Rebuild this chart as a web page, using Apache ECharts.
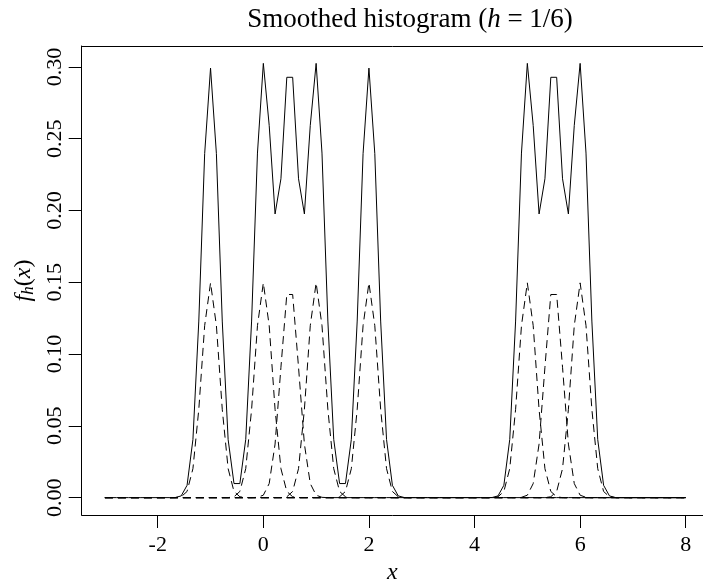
<!DOCTYPE html>
<html>
<head>
<meta charset="utf-8">
<script src="https://cdn.jsdelivr.net/npm/echarts@6/dist/echarts.min.js"></script>
<style>html,body{margin:0;padding:0;background:#fff}#c{width:703px;height:583px}</style>
</head>
<body>
<div id="c"></div>
<script>
// grid x values (100 points from -3 to 8)
const xs = [
  -3, -2.8889, -2.7778, -2.6667, -2.5556, -2.4444, -2.3333, -2.2222, -2.1111,
  -2, -1.8889, -1.7778, -1.6667, -1.5556, -1.4444, -1.3333, -1.2222, -1.1111,
  -1, -0.8889, -0.7778, -0.6667, -0.5556, -0.4444, -0.3333, -0.2222, -0.1111,
  0, 0.1111, 0.2222, 0.3333, 0.4444, 0.5556, 0.6667, 0.7778, 0.8889,
  1, 1.1111, 1.2222, 1.3333, 1.4444, 1.5556, 1.6667, 1.7778, 1.8889,
  2, 2.1111, 2.2222, 2.3333, 2.4444, 2.5556, 2.6667, 2.7778, 2.8889,
  3, 3.1111, 3.2222, 3.3333, 3.4444, 3.5556, 3.6667, 3.7778, 3.8889,
  4, 4.1111, 4.2222, 4.3333, 4.4444, 4.5556, 4.6667, 4.7778, 4.8889,
  5, 5.1111, 5.2222, 5.3333, 5.4444, 5.5556, 5.6667, 5.7778, 5.8889,
  6, 6.1111, 6.2222, 6.3333, 6.4444, 6.5556, 6.6667, 6.7778, 6.8889,
  7, 7.1111, 7.2222, 7.3333, 7.4444, 7.5556, 7.6667, 7.7778, 7.8889,
  8
];

// smoothed histogram (solid)
const total = [
  0,0,0,0,0,0,0,0,0,0,
  0,0,0.0001,0.0012,0.0086,0.0405,0.1230,0.2396,0.2992,0.2396,
  0.1230,0.0405,0.0098,0.0098,0.0406,0.1230,0.2400,0.3025,0.2593,0.1976,
  0.2221,0.2928,0.2928,0.2221,0.1976,0.2593,0.3025,0.2400,0.1230,0.0406,
  0.0098,0.0098,0.0406,0.1230,0.2396,0.2992,0.2396,0.1230,0.0405,0.0086,
  0.0012,0.0001,0,0,0,0,0,0,0,0,
  0,0,0,0,0,0,0.0001,0.0012,0.0086,0.0405,
  0.1230,0.2400,0.3025,0.2593,0.1976,0.2221,0.2928,0.2928,0.2221,0.1976,
  0.2593,0.3025,0.2400,0.1230,0.0405,0.0086,0.0012,0.0001,0,0,
  0,0,0,0,0,0,0,0,0,0
];

// individual bumps (dashed)
const bumpM1 = [
  0,0,0,0,0,0,0,0,0,0,
  0,0,0,0.0006,0.0043,0.0202,0.0615,0.1198,0.1496,0.1198,
  0.0615,0.0202,0.0043,0.0006,0,0,0,0,0,0,
  0,0,0,0,0,0,0,0,0,0,
  0,0,0,0,0,0,0,0,0,0,
  0,0,0,0,0,0,0,0,0,0,
  0,0,0,0,0,0,0,0,0,0,
  0,0,0,0,0,0,0,0,0,0,
  0,0,0,0,0,0,0,0,0,0,
  0,0,0,0,0,0,0,0,0,0
];
const bump0 = [
  0,0,0,0,0,0,0,0,0,0,
  0,0,0,0,0,0,0,0,0,0,
  0,0,0.0006,0.0043,0.0202,0.0615,0.1198,0.1496,0.1198,0.0615,
  0.0202,0.0043,0.0006,0,0,0,0,0,0,0,
  0,0,0,0,0,0,0,0,0,0,
  0,0,0,0,0,0,0,0,0,0,
  0,0,0,0,0,0,0,0,0,0,
  0,0,0,0,0,0,0,0,0,0,
  0,0,0,0,0,0,0,0,0,0,
  0,0,0,0,0,0,0,0,0,0
];
const bump05 = [
  0,0,0,0,0,0,0,0,0,0,
  0,0,0,0,0,0,0,0,0,0,
  0,0,0,0,0,0,0.0002,0.0017,0.0098,0.0373,
  0.0908,0.1415,0.1415,0.0908,0.0373,0.0098,0.0017,0.0002,0,0,
  0,0,0,0,0,0,0,0,0,0,
  0,0,0,0,0,0,0,0,0,0,
  0,0,0,0,0,0,0,0,0,0,
  0,0,0,0,0,0,0,0,0,0,
  0,0,0,0,0,0,0,0,0,0,
  0,0,0,0,0,0,0,0,0,0
];
const bump1 = [
  0,0,0,0,0,0,0,0,0,0,
  0,0,0,0,0,0,0,0,0,0,
  0,0,0,0,0,0,0,0,0,0,
  0,0.0006,0.0043,0.0202,0.0615,0.1198,0.1496,0.1198,0.0615,0.0202,
  0.0043,0.0006,0,0,0,0,0,0,0,0,
  0,0,0,0,0,0,0,0,0,0,
  0,0,0,0,0,0,0,0,0,0,
  0,0,0,0,0,0,0,0,0,0,
  0,0,0,0,0,0,0,0,0,0,
  0,0,0,0,0,0,0,0,0,0
];
const bump2 = [
  0,0,0,0,0,0,0,0,0,0,
  0,0,0,0,0,0,0,0,0,0,
  0,0,0,0,0,0,0,0,0,0,
  0,0,0,0,0,0,0,0,0,0,
  0.0006,0.0043,0.0202,0.0615,0.1198,0.1496,0.1198,0.0615,0.0202,0.0043,
  0.0006,0,0,0,0,0,0,0,0,0,
  0,0,0,0,0,0,0,0,0,0,
  0,0,0,0,0,0,0,0,0,0,
  0,0,0,0,0,0,0,0,0,0,
  0,0,0,0,0,0,0,0,0,0
];
const bump5 = [
  0,0,0,0,0,0,0,0,0,0,
  0,0,0,0,0,0,0,0,0,0,
  0,0,0,0,0,0,0,0,0,0,
  0,0,0,0,0,0,0,0,0,0,
  0,0,0,0,0,0,0,0,0,0,
  0,0,0,0,0,0,0,0,0,0,
  0,0,0,0,0,0,0,0.0006,0.0043,0.0202,
  0.0615,0.1198,0.1496,0.1198,0.0615,0.0202,0.0043,0.0006,0,0,
  0,0,0,0,0,0,0,0,0,0,
  0,0,0,0,0,0,0,0,0,0
];
const bump55 = [
  0,0,0,0,0,0,0,0,0,0,
  0,0,0,0,0,0,0,0,0,0,
  0,0,0,0,0,0,0,0,0,0,
  0,0,0,0,0,0,0,0,0,0,
  0,0,0,0,0,0,0,0,0,0,
  0,0,0,0,0,0,0,0,0,0,
  0,0,0,0,0,0,0,0,0,0,
  0,0.0002,0.0017,0.0098,0.0373,0.0908,0.1415,0.1415,0.0908,0.0373,
  0.0098,0.0017,0.0002,0,0,0,0,0,0,0,
  0,0,0,0,0,0,0,0,0,0
];
const bump6 = [
  0,0,0,0,0,0,0,0,0,0,
  0,0,0,0,0,0,0,0,0,0,
  0,0,0,0,0,0,0,0,0,0,
  0,0,0,0,0,0,0,0,0,0,
  0,0,0,0,0,0,0,0,0,0,
  0,0,0,0,0,0,0,0,0,0,
  0,0,0,0,0,0,0,0,0,0,
  0,0,0,0,0,0,0.0006,0.0043,0.0202,0.0615,
  0.1198,0.1496,0.1198,0.0615,0.0202,0.0043,0.0006,0,0,0,
  0,0,0,0,0,0,0,0,0,0
];
const bumps = [bumpM1, bump0, bump05, bump1, bump2, bump5, bump55, bump6];

const xTicks = [-2, 0, 2, 4, 6, 8];
const yTicks = [0, 0.05, 0.10, 0.15, 0.20, 0.25, 0.30];

const FONT = '"Liberation Serif", "DejaVu Serif", serif';
const pairs = ys => xs.map((x, i) => [x, ys[i]]);

const series = bumps.map(b => ({
  type: 'line', data: pairs(b), symbol: 'none', silent: true,
  lineStyle: { color: '#000', width: 1, type: [8, 5] }
}));
series.push({
  type: 'line', data: pairs(total), symbol: 'none', silent: true,
  lineStyle: { color: '#000', width: 1 }
});

const XMIN = -3.44, XMAX = 8.327, YMIN = -0.0121, YMAX = 0.3146;

const chart = echarts.init(document.getElementById('c'), null, { renderer: 'canvas' });
chart.setOption({
  animation: false,
  backgroundColor: '#fff',
  title: {
    text: 'Smoothed histogram ({i|h} = 1/6)',
    left: 405, textAlign: 'center', top: 1,
    textStyle: {
      fontFamily: FONT, fontSize: 27, fontWeight: 'normal', color: '#000',
      rich: { i: { fontFamily: FONT, fontSize: 27, fontStyle: 'italic', color: '#000' } }
    }
  },
  grid: { left: 81.7, right: 0, top: 46, bottom: 68, show: false, containLabel: false, outerBoundsMode: 'none' },
  xAxis: [{
    type: 'value', min: XMIN, max: XMAX, position: 'bottom',
    axisLine: { show: true, onZero: false, lineStyle: { color: '#000', width: 1 } },
    splitLine: { show: false },
    axisTick: { show: true, length: 13, lineStyle: { color: '#000' }, customValues: xTicks },
    axisLabel: { customValues: xTicks, fontFamily: FONT, fontSize: 22, color: '#000', margin: 19 },
    name: 'x', nameLocation: 'middle', nameGap: 39,
    nameTextStyle: { fontFamily: FONT, fontSize: 24, fontStyle: 'italic', color: '#000' }
  }, {
    type: 'value', min: XMIN, max: XMAX, position: 'top',
    axisLine: { show: true, onZero: false, lineStyle: { color: '#000', width: 1 } },
    splitLine: { show: false }, axisTick: { show: false }, axisLabel: { show: false }
  }],
  yAxis: {
    type: 'value', min: YMIN, max: YMAX,
    axisLine: { show: true, onZero: false, lineStyle: { color: '#000', width: 1 } },
    splitLine: { show: false },
    axisTick: { show: true, length: 13, lineStyle: { color: '#000' }, customValues: yTicks },
    axisLabel: {
      customValues: yTicks, rotate: 90, fontFamily: FONT, fontSize: 22, color: '#000', margin: 15,
      formatter: v => v.toFixed(2)
    },
    name: '{i|f}{s|h}{n|(}{i|x}{n|)}', nameLocation: 'middle', nameGap: 42, nameRotate: 90,
    nameTextStyle: {
      color: '#000',
      rich: {
        i: { fontFamily: FONT, fontSize: 24, fontStyle: 'italic', color: '#000' },
        s: { fontFamily: FONT, fontSize: 17, fontStyle: 'italic', color: '#000', padding: [10, 0, 0, 0] },
        n: { fontFamily: FONT, fontSize: 24, color: '#000' }
      }
    }
  },
  series: series
});
</script>
</body>
</html>
